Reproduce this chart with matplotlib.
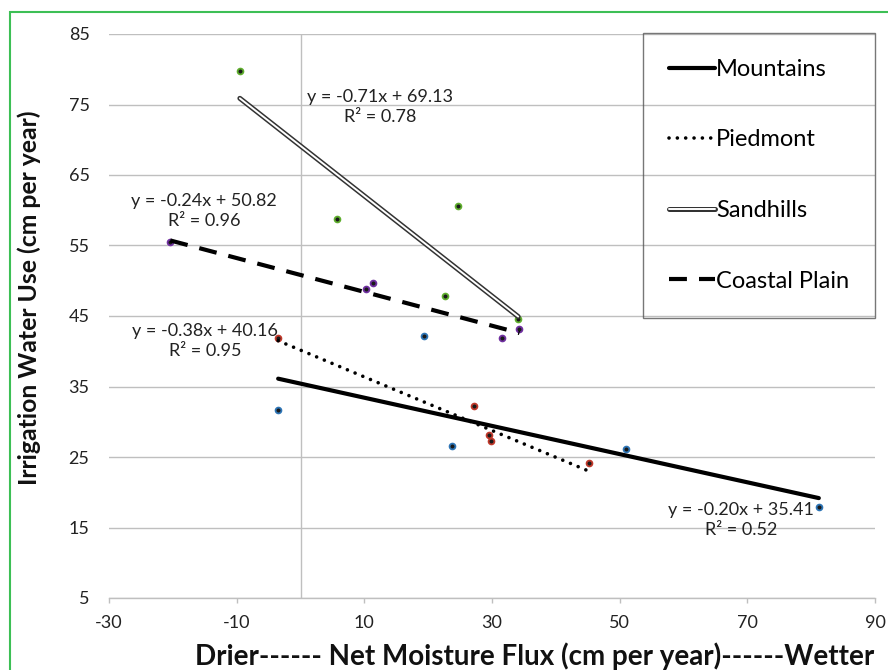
import matplotlib
matplotlib.use("Agg")
import matplotlib.pyplot as plt
import numpy as np
from matplotlib.patches import Rectangle
from matplotlib.legend_handler import HandlerTuple

plt.rcParams['font.family'] = ['Lato', 'DejaVu Sans']
plt.rcParams['axes.unicode_minus'] = False

# ---- data ----
mountains_x = [-3.5, 19.3, 23.7, 51.0, 81.2]
mountains_y = [31.7, 42.2, 26.5, 26.2, 17.9]
piedmont_x = [-3.5, 27.2, 29.5, 29.9, 45.2]
piedmont_y = [41.9, 32.2, 28.1, 27.3, 24.2]
sandhills_x = [-9.5, 5.7, 24.7, 22.7, 34.1]
sandhills_y = [79.8, 58.7, 60.6, 47.9, 44.6]
coastal_x = [-20.4, 11.3, 10.2, 31.5, 34.3]
coastal_y = [55.5, 49.7, 48.9, 41.9, 43.2]

# trendline coefficients (slope, intercept, R2)
mountains_fit = (-0.20, 35.41, 0.52)
piedmont_fit = (-0.38, 40.16, 0.95)
sandhills_fit = (-0.71, 69.13, 0.78)
coastal_fit = (-0.24, 50.82, 0.96)

series_names = ["Mountains", "Piedmont", "Sandhills", "Coastal Plain"]
x_ticks = [-30, -10, 10, 30, 50, 70, 90]
y_ticks = [5, 15, 25, 35, 45, 55, 65, 75, 85]

fig = plt.figure(figsize=(8.88, 6.70), dpi=100)
ax = fig.add_axes([109/888, 1-598/670, (875-109)/888, (598-34)/670])
ax.set_xlim(-30, 90)
ax.set_ylim(5, 85)
ax.set_xticks(x_ticks)
ax.set_yticks(y_ticks)
for s in ['left', 'right', 'top']:
    ax.spines[s].set_visible(False)
ax.spines['bottom'].set_color('#bfbfbf')
ax.spines['bottom'].set_linewidth(1.0)
ax.yaxis.grid(True, color='#bfbfbf', linewidth=1.0)
ax.set_axisbelow(True)
ax.axvline(0, color='#bfbfbf', linewidth=1.0, zorder=0.5)
ax.tick_params(axis='y', length=0, pad=14, labelsize=13, labelcolor='#222222')
ax.tick_params(axis='x', length=3.6, width=1.0, color='#bfbfbf', pad=9,
               labelsize=13, labelcolor='#222222')

def pts(x, y, c):
    ax.plot(x, y, 'o', markersize=4.2, markerfacecolor='#1a1a1a',
            markeredgecolor=c, markeredgewidth=1.3, linestyle='none', zorder=2)

pts(mountains_x, mountains_y, '#2e75b6')
pts(piedmont_x, piedmont_y, '#c0392b')
pts(sandhills_x, sandhills_y, '#5fae2e')
pts(coastal_x, coastal_y, '#7030a0')

def fitline(xs, fit):
    xx = np.array([min(xs), max(xs)])
    return xx, fit[0]*xx + fit[1]

# Mountains: solid
xx, yy = fitline(mountains_x, mountains_fit)
lm, = ax.plot(xx, yy, color='black', lw=3.0, solid_capstyle='round', zorder=3)
# Piedmont: dotted
xx, yy = fitline(piedmont_x, piedmont_fit)
lp, = ax.plot(xx, yy, color='black', lw=2.6, linestyle=(0, (0.01, 2.3)),
              dash_capstyle='round', zorder=3)
# Sandhills: double line
xx, yy = fitline(sandhills_x, sandhills_fit)
ls1, = ax.plot(xx, yy, color='#333333', lw=3.6, solid_capstyle='round', zorder=3)
ls2, = ax.plot(xx, yy, color='white', lw=1.4, solid_capstyle='round', zorder=3.1)
# Coastal Plain: dashed
xx, yy = fitline(coastal_x, coastal_fit)
lc, = ax.plot(xx, yy, color='black', lw=3.0, linestyle=(0, (4.3, 2.9)),
              dash_capstyle='butt', zorder=3)

def eq(fit):
    return "y = %.2fx + %.2f\nR² = %.2f" % fit

tkw = dict(ha='center', va='center', fontsize=13, color='#222222',
           linespacing=1.3, multialignment='center', zorder=4)
ax.text(12.5, 74.6, eq(sandhills_fit), **tkw)
ax.text(-15.1, 59.9, eq(coastal_fit), **tkw)
ax.text(-15.0, 41.5, eq(piedmont_fit), **tkw)
ax.text(69.0, 16.0, eq(mountains_fit), **tkw)

leg = ax.legend([lm, lp, (ls1, ls2), lc], series_names,
                handler_map={tuple: HandlerTuple(ndivide=1)},
                loc='upper left', bbox_to_anchor=((643-109)/766, 1.002),
                frameon=True, fancybox=False, fontsize=17,
                handlelength=1.95, handletextpad=0.05, labelspacing=2.1,
                borderpad=1.1, borderaxespad=0)
leg.get_frame().set_facecolor('none')
leg.get_frame().set_edgecolor('#555555')
leg.get_frame().set_linewidth(1.0)

fig.text(29/888, 1-297.5/670, "Irrigation Water Use (cm per year)",
         rotation=90, ha='center', va='center', fontsize=17.8,
         fontweight='bold', color='#111111')
fig.text(535/888, 1-656/670, "Drier------ Net Moisture Flux (cm per year)------Wetter",
         ha='center', va='center', fontsize=20, fontweight='bold', color='#111111')

fig.add_artist(Rectangle((10/888, -0.1), 1.2, 1-12/670+0.1, transform=fig.transFigure,
                         fill=False, edgecolor='#3dbf55', linewidth=1.5))

fig.savefig("out.png", dpi=100)
